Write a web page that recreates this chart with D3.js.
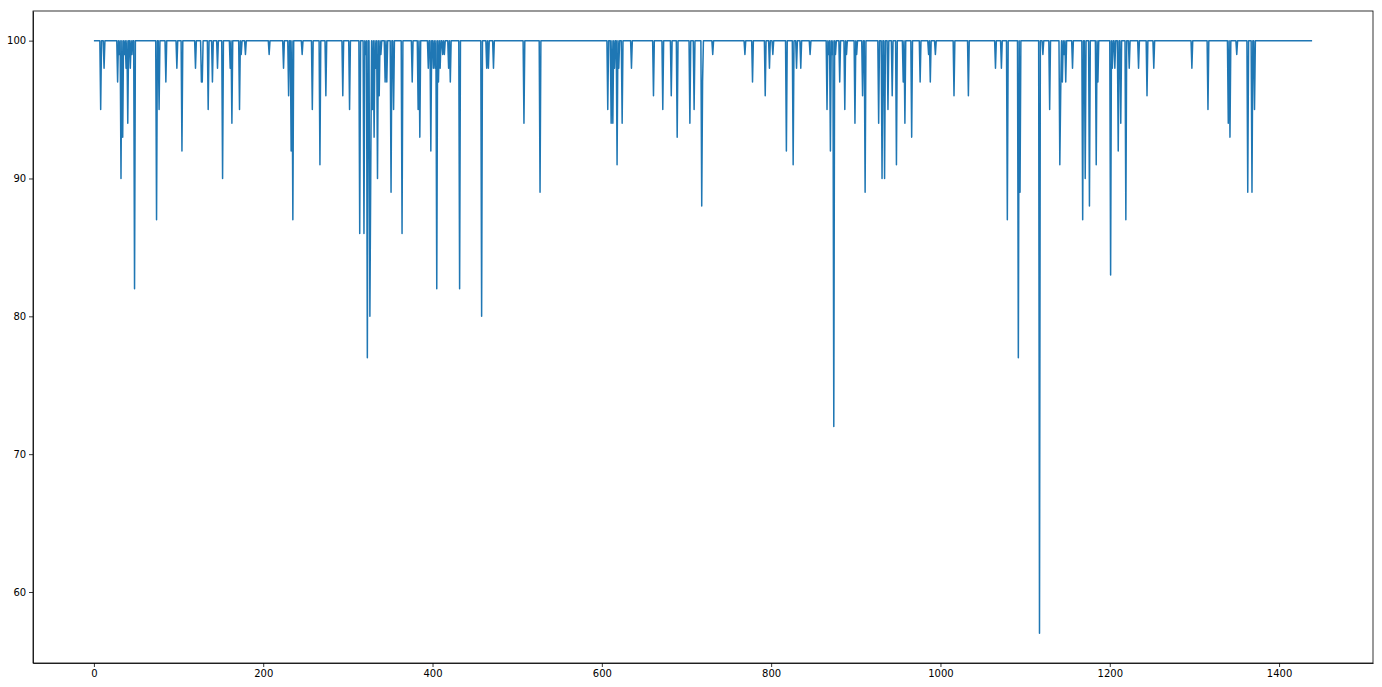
<!DOCTYPE html>
<html>
<head>
<meta charset="utf-8">
<script src="https://cdn.jsdelivr.net/npm/d3@7"></script>
<style>
  html, body { margin: 0; padding: 0; background: #fff; }
  .axis text { font-family: "DejaVu Sans", sans-serif; font-size: 10px; fill: #000; }
  .axis line, .axis path { stroke: #000; stroke-width: 0.8; }
</style>
</head>
<body>
<svg class="minute-chart"></svg>
<script>
const WIDTH = 1382;
const HEIGHT = 687;

// one reading per minute, most of them sit at the ceiling
const POINT_COUNT = 1440;
const BASE_VALUE = 100;

// the minutes where the reading drops, and how far it drops
const dipMinutes = [
  8, 12, 28, 30, 32, 34, 36, 38, 40, 43, 45, 48, 74, 77, 85, 98, 104, 120, 127, 128,
  135, 140, 146, 152, 161, 163, 172, 174, 179, 207, 224, 230, 233, 235, 246, 258, 267, 274, 294, 302,
  314, 319, 321, 323, 326, 327, 329, 331, 333, 335, 337, 339, 344, 346, 351, 354, 364, 376, 383, 385,
  395, 398, 401, 403, 405, 407, 409, 412, 414, 419, 421, 432, 458, 464, 466, 472, 508, 527, 607, 611,
  613, 615, 618, 620, 624, 635, 661, 672, 682, 689, 704, 709, 718, 719, 731, 769, 778, 793, 798, 802,
  818, 826, 830, 835, 846, 866, 868, 870, 872, 874, 876, 881, 887, 889, 899, 901, 908, 911, 927, 931,
  934, 938, 943, 948, 956, 958, 966, 976, 986, 988, 994, 1016, 1033, 1065, 1072, 1079, 1092, 1094, 1117, 1121,
  1129, 1141, 1142, 1144, 1146, 1148, 1156, 1168, 1171, 1176, 1184, 1186, 1201, 1203, 1206, 1210, 1213, 1219, 1223, 1234,
  1244, 1252, 1297, 1316, 1340, 1342, 1350, 1363, 1368, 1371
];
const dipValues = [
  95, 98, 97, 99, 90, 93, 99, 98, 94, 98, 99, 82, 87, 95, 97, 98, 92, 98, 97, 97,
  95, 97, 98, 90, 98, 94, 95, 99, 99, 99, 98, 96, 92, 87, 99, 95, 91, 96, 96, 95,
  86, 86, 99, 77, 80, 90, 95, 93, 98, 90, 96, 99, 97, 97, 89, 95, 86, 97, 95, 93,
  98, 92, 98, 98, 82, 97, 98, 99, 99, 98, 97, 82, 80, 98, 98, 98, 94, 89, 95, 94,
  94, 98, 91, 98, 94, 98, 96, 95, 96, 93, 94, 95, 88, 97, 99, 99, 97, 96, 98, 99,
  92, 91, 98, 98, 99, 95, 99, 92, 99, 72, 99, 97, 95, 99, 94, 99, 96, 89, 94, 90,
  90, 95, 96, 91, 97, 94, 93, 97, 99, 97, 99, 96, 96, 98, 98, 87, 77, 89, 57, 99,
  95, 91, 96, 97, 99, 97, 98, 87, 90, 88, 91, 97, 83, 98, 98, 92, 94, 87, 98, 98,
  96, 98, 98, 95, 94, 93, 99, 89, 89, 95
];

const xTicks = [0, 200, 400, 600, 800, 1000, 1200, 1400];
const yTicks = [60, 70, 80, 90, 100];

const margin = { top: 11, right: 9, bottom: 24, left: 33 };

function buildSeries() {
  const series = d3.range(POINT_COUNT).map(minute => ({ minute, value: BASE_VALUE }));
  dipMinutes.forEach((minute, i) => {
    series[minute].value = dipValues[i];
  });
  return series;
}

function renderChart() {
  const series = buildSeries();
  const innerWidth = WIDTH - margin.left - margin.right;
  const innerHeight = HEIGHT - margin.top - margin.bottom;

  // matplotlib pads the data range by 5% on each side
  const [xMin, xMax] = d3.extent(series, d => d.minute);
  const [yMin, yMax] = d3.extent(series, d => d.value);
  const xPad = (xMax - xMin) * 0.05;
  const yPad = (yMax - yMin) * 0.05;

  const xScale = d3.scaleLinear().domain([xMin - xPad, xMax + xPad]).range([0, innerWidth]);
  const yScale = d3.scaleLinear().domain([yMin - yPad, yMax + yPad]).range([innerHeight, 0]);

  const svg = d3.select('.minute-chart')
    .attr('width', WIDTH)
    .attr('height', HEIGHT);

  const plot = svg.append('g').attr('transform', `translate(${margin.left},${margin.top})`);

  const line = d3.line()
    .x(d => xScale(d.minute))
    .y(d => yScale(d.value));

  plot.append('path')
    .datum(series)
    .attr('fill', 'none')
    .attr('stroke', '#1f77b4')
    .attr('stroke-width', 1.5)
    .attr('stroke-linejoin', 'round')
    .attr('d', line);

  const xAxis = d3.axisBottom(xScale).tickValues(xTicks).tickFormat(d3.format('d'))
    .tickSize(4).tickPadding(2.8).tickSizeOuter(0);
  const yAxis = d3.axisLeft(yScale).tickValues(yTicks).tickFormat(d3.format('d'))
    .tickSize(4).tickPadding(2.8).tickSizeOuter(0);

  plot.append('g')
    .attr('class', 'x axis')
    .attr('transform', `translate(0,${innerHeight})`)
    .call(xAxis);

  plot.append('g')
    .attr('class', 'y axis')
    .call(yAxis);

  // the frame round the plot
  plot.append('rect')
    .attr('width', innerWidth)
    .attr('height', innerHeight)
    .attr('fill', 'none')
    .attr('stroke', '#000')
    .attr('stroke-width', 0.8);
}

renderChart();
</script>
</body>
</html>
